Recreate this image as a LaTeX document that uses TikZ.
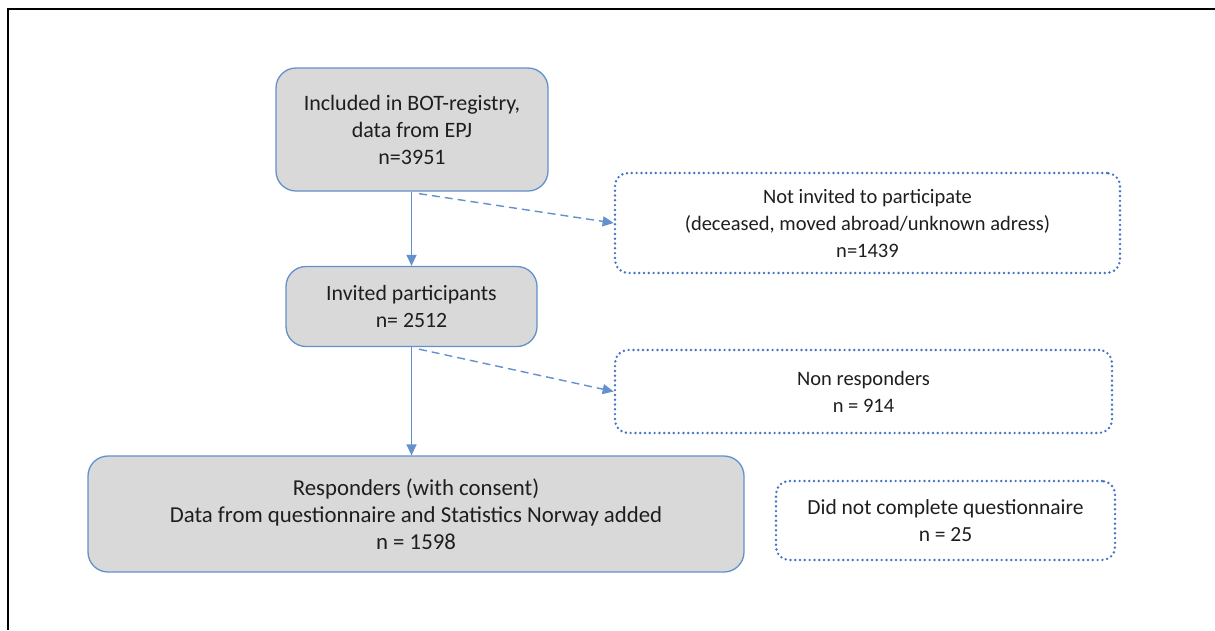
\documentclass[tikz,border=0pt]{standalone}
\usepackage{fontspec}
\setmainfont{Carlito}
\usetikzlibrary{arrows.meta}
\definecolor{boxline}{RGB}{98,145,205}
\definecolor{dotline}{RGB}{68,114,196}
\definecolor{boxfill}{RGB}{217,217,217}
\definecolor{txt}{RGB}{30,30,30}
\tikzset{
  fs/.style={font=\fontsize{#1}{27}\selectfont},
  flowbox/.style={draw=boxline, fill=boxfill, line width=1.3pt, rounded corners=20pt,
    align=center, inner sep=0pt, text=txt, fs=20.5},
  sidebox/.style={draw=dotline, line width=2.7pt, line cap=round, dash pattern=on 0pt off 4.8pt,
    rounded corners=13pt, align=center, inner sep=0pt, text=txt, fs=20.5},
  flowarrow/.style={draw=boxline, line width=1.4pt, -{Triangle[length=11pt,width=10pt]}},
  skiparrow/.style={flowarrow, dash pattern=on 8pt off 5pt},
}
\begin{document}
\begin{tikzpicture}[x=1pt, y=-1pt]
  \useasboundingbox (0,0) rectangle (1215,630);
  % outer frame (top and left edges)
  \draw[line width=2.2pt] (8,630) -- (8,9) -- (1215,9);

  % main flow
  \node[flowbox, fs=22, minimum width=272pt, minimum height=123pt] (reg) at (412,129.5)
    {Included in BOT-registry,\\data from EPJ\\n=3951};
  \node[flowbox, fs=21.8, minimum width=251pt, minimum height=80pt] (inv) at (411.5,306.5)
    {Invited participants\\n= 2512};
  \node[flowbox, fs=22.8, minimum width=656pt, minimum height=116pt] (resp) at (416,514)
    {Responders (with consent)\\Data from questionnaire and Statistics Norway added\\n = 1598};

  % excluded groups
  \node[sidebox, minimum width=505pt, minimum height=100pt] (notinv) at (867.5,223)
    {Not invited to participate\\(deceased, moved abroad/unknown adress)\\n=1439};
  \node[sidebox, minimum width=497pt, minimum height=83pt] (nonresp) at (863.5,391.5)
    {Non responders\\n = 914};
  \node[sidebox, fs=21.5, minimum width=339pt, minimum height=79pt] (incompl) at (945.5,520.5)
    {Did not complete questionnaire\\n = 25};

  % connectors
  \draw[flowarrow] (reg.south -| inv.north) -- (inv.north);
  \draw[flowarrow] (inv.south) -- (inv.south |- resp.north);
  \draw[skiparrow] ([xshift=7pt,yshift=-2pt]reg.south) -- (notinv.west);
  \draw[skiparrow] ([xshift=7.5pt,yshift=-2pt]inv.south) -- (nonresp.west);
\end{tikzpicture}
\end{document}
